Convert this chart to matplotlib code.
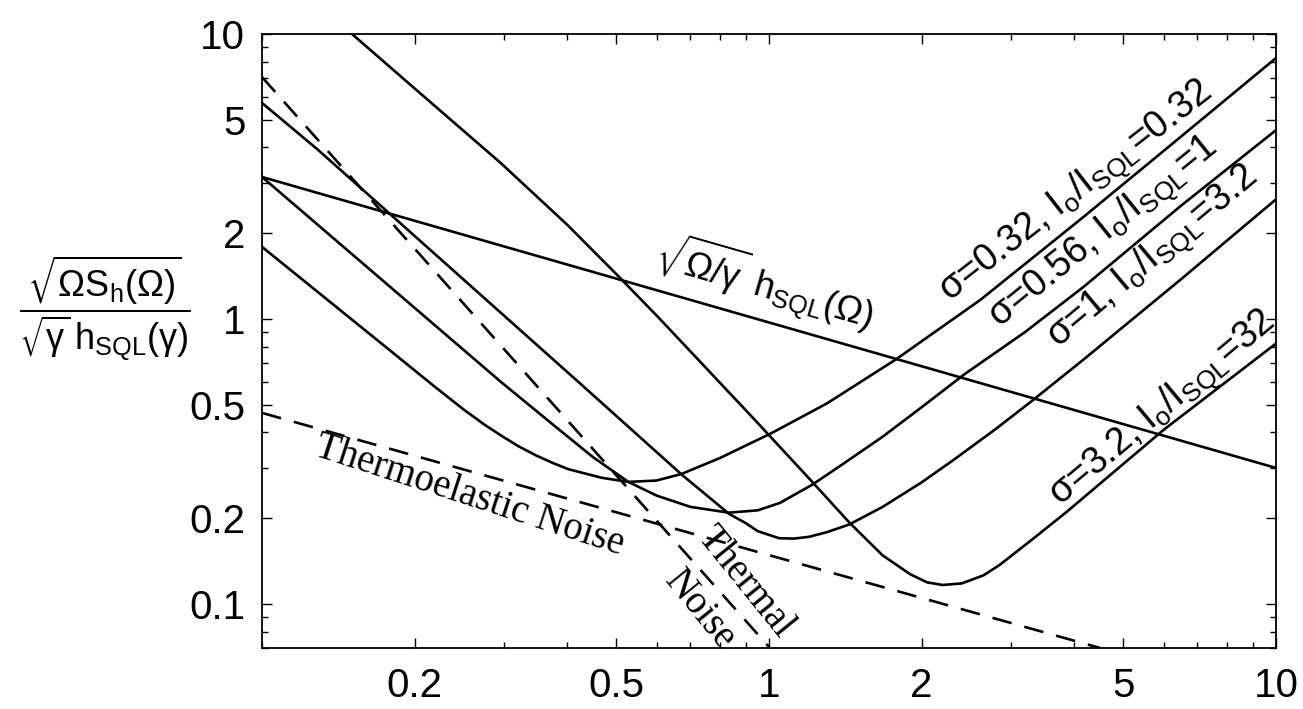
import matplotlib
matplotlib.use("Agg")
import matplotlib.pyplot as plt
from matplotlib.ticker import LogLocator, NullFormatter

# noise curves (x = Omega/gamma)
sig032_x = [0.1, 0.1735, 0.22, 0.251, 0.275, 0.296, 0.32, 0.347, 0.375, 0.402, 0.468, 0.528, 0.6, 0.673, 0.8, 1.01, 1.3, 1.777, 2.61, 4.17, 6.5, 10]
sig032_y = [1.79, 0.81, 0.575, 0.478, 0.425, 0.39, 0.358, 0.332, 0.312, 0.297, 0.277, 0.268, 0.271, 0.286, 0.325, 0.397, 0.505, 0.72, 1.166, 2.28, 4.37, 8.24]

sig056_x = [0.1, 0.296, 0.386, 0.45, 0.528, 0.6, 0.7, 0.834, 0.95, 1.05, 1.217, 1.4, 1.675, 2.0, 2.43, 3.2, 4.17, 6.5, 10]
sig056_y = [3.15, 0.601, 0.408, 0.327, 0.268, 0.240, 0.219, 0.209, 0.213, 0.226, 0.262, 0.31, 0.386, 0.49, 0.64, 0.90, 1.295, 2.5, 4.6]

sig1_x = [0.1, 0.129, 0.296, 0.423, 0.55, 0.673, 0.834, 0.9, 0.95, 1.047, 1.12, 1.2, 1.3, 1.44, 1.675, 2.0, 2.3, 2.8, 3.32, 4.17, 6.5, 10]
sig1_y = [5.73, 3.92, 1.05, 0.596, 0.392, 0.284, 0.207, 0.192, 0.180, 0.170, 0.1695, 0.172, 0.1785, 0.19, 0.219, 0.267, 0.318, 0.411, 0.52, 0.72, 1.38, 2.63]

sig32_x = [0.1505, 0.2, 0.296, 0.4, 0.505, 0.604, 0.75, 0.938, 1.217, 1.44, 1.675, 1.9, 2.05, 2.2, 2.4, 2.65, 2.85, 3.3, 3.86, 6.0, 10]
sig32_y = [10.0, 6.44, 3.52, 2.14, 1.41, 1.016, 0.675, 0.442, 0.268, 0.193, 0.148, 0.127, 0.119, 0.1165, 0.118, 0.126, 0.137, 0.168, 0.21, 0.408, 0.82]

sql_x = [0.1, 10]
sql_y = [3.15, 0.30]

thermal_x = [0.1, 1.0]
thermal_y = [7.06, 0.0706]

thermoel_x = [0.1, 4.5]
thermoel_y = [0.468, 0.070]

xtick_values = [0.2, 0.5, 1, 2, 5, 10]
xtick_labels = ["0.2", "0.5", "1", "2", "5", "10"]
ytick_values = [0.1, 0.2, 0.5, 1, 2, 5, 10]
ytick_labels = ["0.1", "0.2", "0.5", "1", "2", "5", "10"]

curve_labels = [
    ("σ=0.32, I$_o$/I$_{SQL}$=0.32", 4.04, 2.77, 38),
    ("σ=0.56, I$_o$/I$_{SQL}$=1", 4.59, 2.0, 39),
    ("σ=1, I$_o$/I$_{SQL}$=3.2", 5.73, 1.64, 40),
    ("σ=3.2, I$_o$/I$_{SQL}$=32", 6.0, 0.48, 40),
]

plt.rcParams["font.family"] = ["Liberation Sans", "DejaVu Sans"]
plt.rcParams["mathtext.fontset"] = "dejavusans"
plt.rcParams["mathtext.default"] = "regular"

fig = plt.figure(figsize=(13.03, 7.09), dpi=100)
ax = fig.add_axes([0.2011, 0.086, 0.7782, 0.866])

lw = 1.9
dash = (0, (7.5, 5))
for xs, ys in [(sig032_x, sig032_y), (sig056_x, sig056_y), (sig1_x, sig1_y), (sig32_x, sig32_y)]:
    ax.plot(xs, ys, color="black", lw=lw)
ax.plot(sql_x, sql_y, color="black", lw=lw)
ax.plot(thermal_x, thermal_y, color="black", lw=lw, linestyle=dash)
ax.plot(thermoel_x, thermoel_y, color="black", lw=lw, linestyle=dash)

ax.set_xscale("log")
ax.set_yscale("log")
ax.set_xlim(0.1, 10)
ax.set_ylim(0.07, 10)

ax.set_xticks(xtick_values)
ax.set_xticklabels(xtick_labels)
ax.set_yticks(ytick_values)
ax.set_yticklabels(ytick_labels)
for axis in (ax.xaxis, ax.yaxis):
    axis.set_minor_locator(LogLocator(base=10, subs="all", numticks=50))
    axis.set_minor_formatter(NullFormatter())

ax.tick_params(which="both", direction="in", top=True, right=True, width=1.0)
ax.tick_params(which="major", length=7, labelsize=29)
ax.tick_params(which="minor", length=4)
ax.tick_params(axis="x", pad=14)
ax.tick_params(axis="y", pad=12)
for s in ax.spines.values():
    s.set_linewidth(1.3)

# y label as a horizontal fraction
fig.text(0.080, 0.566,
         r"$\dfrac{\sqrt{\Omega S_h(\Omega)}}{\sqrt{\gamma}\,h_{SQL}(\gamma)}$",
         fontsize=26, ha="center", va="center")

ax.text(0.98, 1.34, r"$\sqrt{\Omega/\gamma}\ h_{SQL}(\Omega)$", rotation=-16,
        fontsize=26, ha="center", va="center", rotation_mode="anchor")

for txt, x, y, rot in curve_labels:
    ax.text(x, y, txt, rotation=rot, fontsize=27, ha="center", va="center",
            rotation_mode="anchor")

serif = ["Liberation Serif", "DejaVu Serif"]
ax.text(0.257, 0.239, "Thermoelastic Noise", rotation=-18, fontsize=28,
        family=serif, ha="center", va="center", rotation_mode="anchor")
ax.text(0.896, 0.119, "Thermal", rotation=-51, fontsize=28,
        family=serif, ha="center", va="center", rotation_mode="anchor")
ax.text(0.730, 0.0953, "Noise", rotation=-51, fontsize=28,
        family=serif, ha="center", va="center", rotation_mode="anchor")

fig.savefig("out.png", dpi=100)
plt.close(fig)
